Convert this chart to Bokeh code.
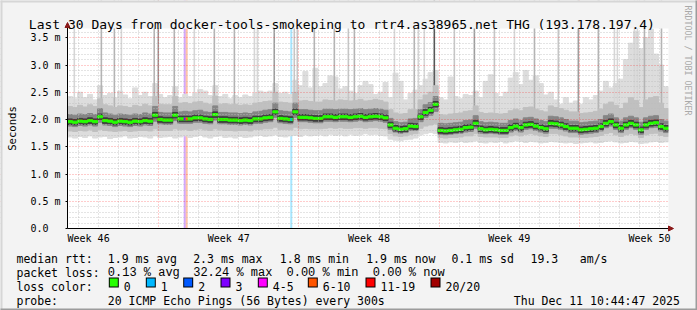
import math
from bokeh.plotting import figure
from bokeh.models import (ColumnDataSource, FixedTicker, Grid, Label, Range1d,
                          Arrow, NormalHead)
from bokeh.core.properties import value
from bokeh.embed import file_html
from bokeh.resources import INLINE

MONO = "DejaVu Sans Mono"
MONO2 = "Liberation Mono"

# ---------------- data (values in ms, x in days since graph start) ----------------
STEP_DAYS = 0.25  # one sample every 6 h over 30 days

median_ms = [
    1.96, 1.95, 1.97, 1.96, 1.98, 1.96, 2.05, 1.98, 1.97, 1.95,
    1.97, 1.96, 1.95, 1.97, 1.96, 1.98, 1.97, 2.08, 2.00, 1.99,
    1.99, 2.08, 2.01, 2.01, 2.01, 2.03, 2.03, 2.01, 2.00, 2.09,
    2.00, 2.00, 1.99, 1.99, 1.98, 1.99, 1.98, 2.01, 2.01, 2.03,
    2.04, 2.14, 2.02, 2.01, 2.00, 2.14, 2.04, 2.04, 2.03, 2.02,
    2.02, 2.05, 2.05, 2.04, 2.05, 2.05, 2.04, 2.05, 2.06, 2.04,
    2.05, 2.06, 2.05, 2.03, 1.90, 1.84, 1.82, 1.83, 1.88, 1.87,
    2.05, 2.13, 2.17, 2.28, 1.80, 1.79, 1.80, 1.81, 1.82, 1.85,
    1.86, 1.93, 1.83, 1.81, 1.82, 1.81, 1.80, 1.80, 1.85, 1.88,
    1.85, 1.90, 1.91, 1.88, 1.85, 1.83, 1.93, 1.92, 1.90, 1.87,
    1.84, 1.84, 1.81, 1.82, 1.83, 1.84, 1.87, 1.93, 1.96, 1.90,
    1.84, 1.90, 1.93, 1.90, 1.81, 1.90, 1.93, 1.94, 1.87, 1.84,
]
smoke_lo = [
    1.68, 1.66, 1.69, 1.67, 1.70, 1.66, 1.68, 1.69, 1.65, 1.67,
    1.68, 1.70, 1.66, 1.67, 1.69, 1.68, 1.66, 1.70, 1.67, 1.68,
    1.69, 1.66, 1.68, 1.70, 1.67, 1.69, 1.71, 1.68, 1.66, 1.69,
    1.70, 1.67, 1.68, 1.66, 1.69, 1.67, 1.68, 1.70, 1.71, 1.69,
    1.70, 1.72, 1.69, 1.68, 1.70, 1.71, 1.69, 1.72, 1.70, 1.71,
    1.72, 1.70, 1.73, 1.71, 1.72, 1.70, 1.73, 1.71, 1.72, 1.74,
    1.72, 1.73, 1.71, 1.70, 1.64, 1.62, 1.61, 1.63, 1.64, 1.66,
    1.72, 1.74, 1.76, 1.74, 1.58, 1.57, 1.59, 1.58, 1.60, 1.58,
    1.59, 1.61, 1.58, 1.57, 1.59, 1.58, 1.60, 1.57, 1.59, 1.61,
    1.60, 1.58, 1.60, 1.59, 1.57, 1.58, 1.60, 1.59, 1.58, 1.57,
    1.58, 1.56, 1.57, 1.58, 1.59, 1.57, 1.58, 1.60, 1.61, 1.59,
    1.57, 1.58, 1.60, 1.59, 1.56, 1.57, 1.59, 1.60, 1.58, 1.59,
]
smoke_q1 = [
    1.79, 1.78, 1.80, 1.79, 1.81, 1.78, 1.82, 1.80, 1.79, 1.78,
    1.79, 1.80, 1.78, 1.79, 1.80, 1.80, 1.79, 1.83, 1.80, 1.80,
    1.80, 1.83, 1.81, 1.82, 1.80, 1.82, 1.83, 1.81, 1.80, 1.83,
    1.81, 1.80, 1.80, 1.79, 1.80, 1.80, 1.79, 1.82, 1.82, 1.83,
    1.83, 1.86, 1.82, 1.82, 1.81, 1.86, 1.83, 1.84, 1.83, 1.83,
    1.83, 1.84, 1.85, 1.84, 1.85, 1.84, 1.84, 1.85, 1.85, 1.84,
    1.85, 1.85, 1.84, 1.83, 1.74, 1.70, 1.69, 1.70, 1.73, 1.74,
    1.84, 1.88, 1.90, 1.92, 1.67, 1.66, 1.67, 1.67, 1.68, 1.70,
    1.70, 1.74, 1.69, 1.68, 1.68, 1.68, 1.67, 1.67, 1.70, 1.72,
    1.70, 1.73, 1.74, 1.72, 1.70, 1.69, 1.74, 1.74, 1.72, 1.70,
    1.68, 1.68, 1.67, 1.67, 1.68, 1.69, 1.71, 1.74, 1.76, 1.72,
    1.69, 1.72, 1.74, 1.72, 1.67, 1.72, 1.74, 1.75, 1.71, 1.69,
]
smoke_d1 = [
    1.88, 1.87, 1.89, 1.88, 1.90, 1.88, 1.95, 1.90, 1.89, 1.87,
    1.89, 1.88, 1.87, 1.89, 1.88, 1.90, 1.89, 1.97, 1.92, 1.91,
    1.91, 1.98, 1.93, 1.93, 1.93, 1.95, 1.95, 1.93, 1.92, 1.99,
    1.92, 1.92, 1.91, 1.91, 1.90, 1.91, 1.90, 1.93, 1.93, 1.95,
    1.96, 2.04, 1.94, 1.93, 1.92, 2.04, 1.96, 1.96, 1.95, 1.94,
    1.94, 1.97, 1.97, 1.96, 1.97, 1.97, 1.96, 1.97, 1.98, 1.96,
    1.97, 1.98, 1.97, 1.95, 1.82, 1.77, 1.75, 1.76, 1.80, 1.80,
    1.96, 2.04, 2.08, 2.15, 1.73, 1.72, 1.73, 1.74, 1.75, 1.77,
    1.78, 1.84, 1.75, 1.74, 1.75, 1.74, 1.73, 1.73, 1.77, 1.80,
    1.77, 1.82, 1.83, 1.80, 1.77, 1.75, 1.84, 1.84, 1.82, 1.79,
    1.76, 1.76, 1.73, 1.74, 1.75, 1.76, 1.79, 1.85, 1.88, 1.82,
    1.76, 1.82, 1.85, 1.82, 1.73, 1.82, 1.85, 1.86, 1.79, 1.76,
]
smoke_d3 = [
    2.09, 2.08, 2.10, 2.09, 2.11, 2.09, 2.20, 2.12, 2.10, 2.08,
    2.10, 2.09, 2.08, 2.10, 2.09, 2.12, 2.10, 2.24, 2.13, 2.12,
    2.12, 2.24, 2.14, 2.15, 2.14, 2.16, 2.17, 2.14, 2.13, 2.25,
    2.13, 2.13, 2.12, 2.12, 2.11, 2.12, 2.11, 2.14, 2.15, 2.17,
    2.18, 2.30, 2.16, 2.15, 2.14, 2.30, 2.18, 2.18, 2.17, 2.16,
    2.16, 2.19, 2.19, 2.18, 2.19, 2.19, 2.18, 2.19, 2.20, 2.18,
    2.19, 2.20, 2.19, 2.17, 2.02, 1.96, 1.94, 1.95, 2.01, 2.02,
    2.18, 2.27, 2.31, 2.42, 1.93, 1.92, 1.93, 1.94, 1.95, 1.98,
    1.99, 2.07, 1.96, 1.94, 1.95, 1.94, 1.93, 1.93, 1.98, 2.01,
    1.98, 2.03, 2.04, 2.01, 1.98, 1.96, 2.06, 2.05, 2.03, 2.00,
    1.97, 1.97, 1.94, 1.95, 1.96, 1.97, 2.00, 2.07, 2.10, 2.03,
    1.97, 2.03, 2.06, 2.03, 1.95, 2.03, 2.06, 2.07, 2.00, 1.97,
]
smoke_q3 = [
    2.24, 2.22, 2.26, 2.23, 2.27, 2.24, 2.38, 2.27, 2.25, 2.22,
    2.25, 2.24, 2.22, 2.26, 2.24, 2.28, 2.25, 2.42, 2.28, 2.27,
    2.27, 2.42, 2.30, 2.31, 2.29, 2.32, 2.33, 2.30, 2.28, 2.43,
    2.28, 2.29, 2.27, 2.28, 2.26, 2.27, 2.26, 2.30, 2.31, 2.33,
    2.34, 2.50, 2.32, 2.31, 2.30, 2.50, 2.34, 2.35, 2.33, 2.32,
    2.32, 2.36, 2.35, 2.34, 2.36, 2.35, 2.34, 2.35, 2.37, 2.34,
    2.35, 2.37, 2.35, 2.32, 2.18, 2.12, 2.10, 2.11, 2.18, 2.18,
    2.36, 2.45, 2.50, 2.62, 2.09, 2.08, 2.10, 2.11, 2.12, 2.15,
    2.16, 2.25, 2.13, 2.11, 2.12, 2.11, 2.10, 2.11, 2.16, 2.19,
    2.16, 2.22, 2.23, 2.19, 2.16, 2.14, 2.25, 2.22, 2.20, 2.17,
    2.14, 2.14, 2.11, 2.12, 2.13, 2.15, 2.19, 2.28, 2.32, 2.26,
    2.20, 2.30, 2.40, 2.35, 2.22, 2.36, 2.40, 2.42, 2.30, 2.20,
]
smoke_hi = [
    2.42, 2.38, 2.50, 2.40, 2.46, 2.36, 2.62, 2.44, 2.48, 2.40,
    2.52, 2.45, 2.38, 2.58, 2.44, 2.50, 2.42, 2.66, 2.46, 2.40,
    2.44, 2.60, 2.40, 2.46, 2.42, 2.48, 2.55, 2.52, 2.44, 2.62,
    2.42, 2.46, 2.38, 2.44, 2.40, 2.45, 2.42, 2.48, 2.52, 2.50,
    2.52, 2.66, 2.48, 2.50, 2.46, 2.72, 2.62, 2.88, 2.58, 2.94,
    2.60, 2.66, 2.80, 2.78, 2.56, 2.60, 2.52, 2.48, 2.62, 2.70,
    2.64, 2.46, 2.50, 2.68, 2.40, 2.85, 2.70, 2.36, 2.48, 2.54,
    2.62, 2.74, 2.86, 2.90, 2.40, 2.36, 2.78, 2.42, 2.38, 2.46,
    2.44, 2.52, 2.40, 2.70, 2.82, 2.48, 2.42, 2.50, 2.76, 2.86,
    2.64, 2.90, 2.72, 2.80, 2.66, 2.45, 2.50, 2.36, 2.28, 2.40,
    2.30, 2.34, 2.28, 2.40, 2.36, 2.44, 2.52, 2.70, 2.58, 2.66,
    2.74, 3.10, 3.40, 3.62, 3.30, 3.50, 3.66, 3.20, 3.00, 2.60,
]

# samples whose slowest pings go off the top of the graph
spike_day = [0.30, 1.65, 2.30, 2.65, 4.29, 4.49, 5.29, 6.29, 7.29, 8.29,
             9.29, 9.44, 10.28, 11.28, 11.43, 12.28, 13.28, 13.98, 14.28, 16.28,
             17.27, 17.47, 17.77, 18.27, 19.27, 20.27, 21.27, 22.27, 23.27, 24.46,
             25.46, 26.46, 27.26, 27.41, 28.26, 28.41, 28.76, 29.61]
spike_pings = [1, 3, 3, 1, 3, 4, 3, 1, 3, 3,
               1, 1, 4, 2, 2, 3, 3, 2, 3, 1,
               3, 1, 1, 8, 2, 4, 2, 1, 3, 2,
               4, 3, 1, 1, 1, 1, 3, 3]

# packet loss events (lost pings out of 20)
loss_day = [5.80, 5.90, 11.12]
loss_pings = [3, 7, 1]

y_ticks = [0.0, 0.5, 1.0, 1.5, 2.0, 2.5, 3.0, 3.5]
y_labels = ["0.0\u00a0\u00a0", "0.5 m", "1.0 m", "1.5 m", "2.0 m", "2.5 m", "3.0 m", "3.5 m"]
week_label_day = [1.053, 8.053, 15.053, 22.053, 29.053]
week_labels = ["Week 46", "Week 47", "Week 48", "Week 49", "Week 50"]
week_start_day = [4.553, 11.553, 18.553, 25.553]
first_midnight = 0.553

loss_legend = ["0", "1", "2", "3", "4-5", "6-10", "11-19", "20/20"]
loss_colors = ["#26ff00", "#00b8ff", "#0059ff", "#7e00ff", "#ff00ff", "#ff5500", "#ff0000", "#a10000"]

title_text = "Last 30 Days from docker-tools-smokeping to rtr4.as38965.net THG (193.178.197.4)"
rtt_stats = [("median rtt:", 16), ("1.9 ms avg", 107.3), ("2.3 ms max", 192.7),
             ("1.8 ms min", 279.3), ("1.9 ms now", 365.7), ("0.1 ms sd", 451.0),
             ("19.3", 530.0), ("am/s", 579.3)]
loss_stats = [("packet loss:", 16), ("0.13 % avg", 107.3), ("32.24 % max", 192.7),
              ("0.00 % min", 286.0), ("0.00 % now", 372.3)]
probe_text = "20 ICMP Echo Pings (56 Bytes) every 300s"
stamp_text = "Thu Dec 11 10:44:47 2025"


def loss_index(k):
    if k <= 3:
        return k
    if k <= 5:
        return 4
    if k <= 10:
        return 5
    if k <= 19:
        return 6
    return 7


SPIKE_GREY = {1: "#d6d6d6", 2: "#c6c6c6", 3: "#b4b4b4", 4: "#9e9e9e", 8: "#585858"}

# ---------------- layout: plot area 601x200 px at canvas (67, 28) ----------------
W, H = 697, 310
X0, Y0 = 67, 228          # canvas px of the origin
DAYS, Y_TOP = 30, 3.67
PXD = 601 / DAYS          # px per day
PXM = 200 / Y_TOP         # px per ms
BG = "#f3f3f3"


def cx(px):  # canvas px -> data x (for decorations placed in canvas space)
    return (px - X0) / PXD


def cy(py):  # canvas px -> data y
    return (Y0 - py) / PXM


p = figure(width=W, height=H, output_backend="svg", toolbar_location=None,
           x_range=Range1d(cx(0), cx(W)), y_range=Range1d(cy(H), cy(0)),
           min_border=0, background_fill_color="white", border_fill_color=BG)
p.outline_line_color = None
p.xgrid.visible = False
p.ygrid.visible = False

n = len(median_ms)
left = [i * STEP_DAYS for i in range(n)]
right = [(i + 1) * STEP_DAYS for i in range(n)]
src = ColumnDataSource(dict(
    left=left, right=right, lo=smoke_lo, q1=smoke_q1, d1=smoke_d1, d3=smoke_d3,
    q3=smoke_q3, hi=smoke_hi,
    core_lo=[m - 0.05 for m in median_ms], core_hi=[m + 0.05 for m in median_ms],
    med_lo=[m - 0.02 for m in median_ms], med_hi=[m + 0.02 for m in median_ms],
))

loss_src = ColumnDataSource(dict(
    left=loss_day, right=[d + 0.1 for d in loss_day],
    color=[loss_colors[loss_index(k)] for k in loss_pings],
    mlo=[median_ms[int(d / STEP_DAYS)] - 0.025 for d in loss_day],
    mhi=[median_ms[int(d / STEP_DAYS)] + 0.025 for d in loss_day],
))
p.quad(left="left", right="right", bottom=0, top=Y_TOP + 1, source=loss_src,
       fill_color="color", fill_alpha=0.35, line_color=None)

p.quad(left="left", right="right", bottom="lo", top="hi", source=src,
       fill_color="#dddddd", line_color="#dddddd", line_width=1)

spike_src = ColumnDataSource(dict(
    left=spike_day, right=[d + 0.08 for d in spike_day],
    bottom=[median_ms[int(d / STEP_DAYS)] for d in spike_day],
    color=[SPIKE_GREY[k] for k in spike_pings],
))
p.quad(left="left", right="right", bottom="bottom", top=Y_TOP + 1, source=spike_src,
       fill_color="color", line_color=None)

p.quad(left="left", right="right", bottom="q1", top="q3", source=src,
       fill_color="#c0c0c0", line_color="#c0c0c0", line_width=1)
p.quad(left="left", right="right", bottom="d1", top="d3", source=src,
       fill_color="#858585", line_color="#858585", line_width=1)
p.quad(left="left", right="right", bottom="core_lo", top="core_hi", source=src,
       fill_color="#3c3c3c", line_color="#3c3c3c", line_width=1)
p.quad(left="left", right="right", bottom="med_lo", top="med_hi", source=src,
       fill_color="#26ff00", line_color="#26ff00", line_width=1)
p.quad(left="left", right="right", bottom="mlo", top="mhi", source=loss_src,
       fill_color="color", line_color=None)

# grids over the smoke
minor_days = [first_midnight + k for k in range(DAYS)
              if all(abs(first_midnight + k - w) > 0.01 for w in week_start_day)]
minor_y = [round(0.1 * k, 2) for k in range(1, 37) if k % 5 != 0]
major_y = [0.5 * k for k in range(1, 8)]
for dim, ticks, color, alpha in [
    (0, minor_days, "#bdbdbd", 0.8), (1, minor_y, "#bdbdbd", 0.8),
    (0, week_start_day, "#ff0000", 0.4), (1, major_y, "#ff0000", 0.4),
]:
    p.add_layout(Grid(dimension=dim, ticker=FixedTicker(ticks=ticks), grid_line_color=color,
                      grid_line_alpha=alpha, grid_line_dash="1 2", level="guide"))

# canvas background outside the plot area (covers grid ends)
p.quad(left=[cx(0), DAYS, cx(0), cx(0)], right=[0, cx(W), cx(W), cx(W)],
       bottom=[cy(H), cy(H), Y_TOP, cy(H)], top=[cy(0), cy(0), cy(0), 0],
       fill_color=BG, line_color=None, level="annotation")

# 3-D frame of the canvas and the loss colour legend boxes (canvas-space decorations)
frame_l = [cx(0), cx(0), cx(0), cx(W - 2)]
frame_r = [cx(W), cx(2), cx(W), cx(W)]
frame_t = [cy(0), cy(0), cy(H - 2), cy(0)]
frame_b = [cy(2), cy(H), cy(H), cy(H)]
p.quad(left=frame_l, right=frame_r, top=frame_t, bottom=frame_b,
       fill_color=["#d6d6d6", "#d6d6d6", "#9c9c9c", "#9c9c9c"], line_color=None,
       level="overlay")

box_x = [108.3, 145.3, 182.7, 220.0, 257.3, 307.3, 365.0, 430.0]
p.quad(left=[cx(b) for b in box_x], right=[cx(b + 10) for b in box_x],
       top=cy(277), bottom=cy(287), fill_color="black", line_color=None, level="overlay")
p.quad(left=[cx(b + 1) for b in box_x], right=[cx(b + 9) for b in box_x],
       top=cy(278), bottom=cy(286), fill_color=loss_colors, line_color=None, level="overlay")

# axes drawn at the plot origin
p.xaxis.fixed_location = 0
p.yaxis.fixed_location = 0
p.xaxis.bounds = (0, DAYS + 0.2)
p.yaxis.bounds = (0, Y_TOP + 0.08)
p.xaxis.ticker = FixedTicker(ticks=week_label_day)
p.xaxis.major_label_overrides = dict(zip(week_label_day, week_labels))
p.yaxis.ticker = FixedTicker(ticks=y_ticks)
p.yaxis.major_label_overrides = dict(zip(y_ticks, y_labels))
for ax in (p.xaxis, p.yaxis):
    ax.level = "overlay"
    ax.axis_line_color = "black"
    ax.major_label_text_font = MONO
    ax.major_label_text_font_size = "10px"
    ax.major_label_text_color = "#000000"
    ax.minor_tick_line_color = None
p.xaxis.major_tick_line_color = None
p.xaxis.major_tick_out = 0
p.xaxis.major_tick_in = 0
p.xaxis.major_label_standoff = 4
p.yaxis.major_tick_line_color = "black"
p.yaxis.major_tick_out = 2
p.yaxis.major_tick_in = 0
p.yaxis.major_label_standoff = 5

head = dict(size=5, fill_color="#8b1a1a", line_color="#8b1a1a", line_width=1)
p.add_layout(Arrow(end=NormalHead(**head), x_start=0, y_start=Y_TOP, x_end=0,
                   y_end=Y_TOP + 6 / PXM, line_alpha=0, level="overlay"))
p.add_layout(Arrow(end=NormalHead(**head), x_start=DAYS - 0.1, y_start=0,
                   x_end=DAYS + 5 / PXD, y_end=0, line_alpha=0, level="overlay"))


def txt(x, y, s, size="11.5px", color="#000000", align="left", angle=0.0, baseline="alphabetic"):
    p.add_layout(Label(x=x, y=y, x_units="canvas", y_units="canvas", text=s, text_font=MONO,
                       text_font_size=size, text_color=color, text_align=align,
                       text_baseline=baseline, angle=angle, level="overlay"))


txt(28.3, 24, title_text, size="13px")
txt(11.5, 128, "Seconds", size="10.6px", align="center", angle=math.pi / 2, baseline="middle")
txt(687, 5, "RRDTOOL / TOBI OETIKER", size="8.3px", color="#a9a9a9", angle=-math.pi / 2,
    baseline="middle")

# legend rows as text glyphs (canvas px converted to data space)
rows = {(MONO, "11.5px"): ([], [], []), (MONO2, "12px"): ([], [], [])}


def put(x, y, s, key=(MONO, "11.5px")):
    xs, ys, ts = rows[key]
    xs.append(cx(x)); ys.append(cy(y)); ts.append(s)


for s, x in rtt_stats:
    put(x, 258.3, s)
put(loss_stats[0][1], 272.3, loss_stats[0][0])
for s, x in loss_stats[1:]:
    put(x, 272.3, s, key=(MONO2, "12px"))
put(16, 286, "loss color:")
for lab, bx in zip(loss_legend, box_x):
    put(bx + 15, 286, lab)
put(16, 300, "probe:")
put(107.3, 300, probe_text)
put(513.3, 300, stamp_text)
for (font, size), (xs, ys, ts) in rows.items():
    p.text(x=xs, y=ys, text=ts, text_font=value(font), text_font_size=size,
           text_color="#000000", text_align="left", text_baseline="alphabetic",
           level="overlay")

open("out.html", "w").write(file_html(p, INLINE))
